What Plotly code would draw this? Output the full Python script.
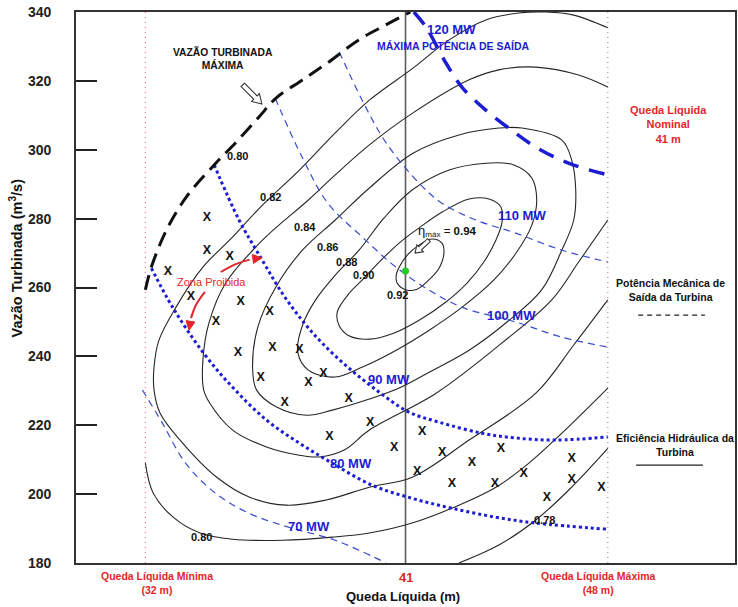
import math
import plotly.graph_objects as go

FONT = "Liberation Sans, Arial, sans-serif"
RED = "#e3262b"
BLUE_DARK = "#1c1cd2"
BLUE_THIN = "#3a4bd0"

# ---------------------------------------------------------------
# Hydraulic efficiency contours: queda líquida H [m], vazão Q [m3/s]
# ---------------------------------------------------------------
eta_092_h = [40.78, 41.06, 41.47, 41.92, 42.26, 42.33, 42.16, 41.81, 41.40, 41.02, 40.71, 40.68, 40.78]
eta_092_q = [265.9, 269.4, 272.3, 274.1, 272.9, 270.0, 265.6, 262.2, 259.5, 259.3, 261.3, 263.6, 265.9]

eta_090_h = [38.64, 39.06, 39.54, 40.09, 40.78, 41.47, 42.27, 43.20, 43.89, 44.30, 44.34, 44.13,
             43.71, 43.13, 42.40, 41.47, 40.61, 39.75, 39.06, 38.71, 38.64]
eta_090_q = [252.9, 258.4, 262.5, 267.4, 272.9, 277.3, 281.9, 285.7, 285.7, 283.4, 279.0, 273.8,
             267.4, 261.3, 255.8, 250.5, 246.8, 245.0, 245.9, 248.8, 252.9]

eta_088_h = [37.27, 37.44, 37.89, 38.57, 39.40, 40.26, 41.23, 42.51, 43.78, 44.75, 45.37, 45.54,
             45.37, 44.85, 44.06, 42.96, 41.82, 40.68, 39.51, 38.57, 37.64, 37.27]
eta_088_q = [241.3, 249.1, 256.4, 263.6, 270.9, 280.2, 288.3, 294.1, 296.1, 295.6, 291.8, 285.4,
             278.1, 270.3, 262.2, 254.3, 247.6, 241.8, 236.9, 234.0, 236.0, 241.3]

eta_086_h = [35.71, 35.89, 36.51, 37.44, 38.57, 39.75, 41.26, 42.85, 44.23, 45.03, 46.41, 46.75,
             46.89, 46.82, 46.41, 45.71, 44.47, 43.20, 41.82, 40.78, 39.75, 38.47, 37.58, 36.54,
             35.85, 35.71]
eta_086_q = [236.6, 248.5, 260.1, 270.9, 279.6, 288.9, 299.0, 304.3, 306.3, 306.3, 302.8, 297.0,
             288.3, 279.6, 270.9, 259.3, 249.7, 241.8, 235.4, 230.8, 227.6, 224.4, 222.9, 225.3,
             230.2, 236.6]

eta_084_h = [48.00, 46.99, 45.51, 44.23, 43.20, 41.26, 39.75, 38.57, 37.64, 36.06, 34.78, 34.20,
             33.99, 34.02, 34.23, 35.02, 36.19, 37.33, 38.02, 38.88, 39.75, 42.06, 44.34, 46.06,
             46.99, 48.00]
eta_084_q = [318.2, 321.7, 324.0, 323.2, 320.3, 310.7, 301.4, 292.7, 285.4, 273.8, 261.3, 249.7,
             238.9, 230.2, 226.4, 218.6, 213.7, 211.3, 210.8, 212.8, 218.6, 229.3, 243.9, 256.4,
             267.4, 279.6]

eta_082_h = [48.00, 46.82, 45.85, 44.92, 43.78, 42.51, 41.26, 39.75, 38.57, 37.33, 36.06, 34.92,
             33.99, 33.06, 32.47, 32.30, 32.30, 32.51, 33.20, 34.47, 35.61, 36.89, 38.26, 39.75,
             41.23, 43.20, 45.51, 46.82, 48.00]
eta_082_q = [335.4, 339.1, 340.0, 339.7, 337.7, 331.9, 323.7, 314.4, 304.9, 294.1, 284.0, 273.8,
             265.9, 254.3, 244.7, 236.9, 230.2, 223.5, 215.7, 204.9, 199.1, 196.8, 198.3, 202.0,
             204.9, 215.7, 229.3, 243.3, 256.4]

eta_080_h = [32.00, 32.27, 32.96, 33.89, 35.02, 36.75, 38.47, 39.75, 41.23, 42.85, 44.13, 45.27,
             46.41, 48.00]
eta_080_q = [209.0, 200.3, 193.3, 188.7, 186.9, 186.6, 187.5, 188.7, 191.6, 196.8, 202.0, 209.0,
             217.7, 230.8]

eta_078_h = [42.85, 44.23, 45.51, 46.65, 48.00]
eta_078_q = [180.0, 185.2, 192.5, 201.2, 213.3]

# ---------------------------------------------------------------
# Constant mechanical output power lines [MW]
# ---------------------------------------------------------------
p070_h = [31.90, 32.59, 33.39, 34.42, 35.57, 36.95, 38.57, 40.33]
p070_q = [230.2, 220.6, 209.0, 200.3, 194.5, 190.4, 186.6, 180.0]

p080_h = [32.21, 32.94, 34.01, 35.01, 36.19, 37.33, 38.46, 39.84, 41.22, 42.60, 44.12, 45.50, 48.00]
p080_q = [265.6, 254.3, 241.0, 231.1, 221.5, 214.8, 209.0, 202.6, 198.8, 195.9, 193.3, 191.6, 189.8]

p090_h = [34.38, 35.24, 36.04, 36.73, 37.42, 38.11, 39.04, 40.09, 41.12, 42.16, 43.64, 44.81, 46.19, 48.00]
p090_q = [295.6, 279.6, 268.0, 258.4, 250.5, 243.9, 236.6, 229.6, 223.8, 220.9, 217.7, 216.3, 215.7, 216.6]

p100_h = [36.49, 37.42, 38.31, 39.50, 40.67, 41.81, 42.94, 44.81, 46.39, 48.00]
p100_q = [315.0, 297.9, 284.5, 274.7, 265.9, 259.3, 254.3, 250.0, 245.6, 242.7]

p110_h = [38.71, 39.50, 40.33, 41.47, 42.26, 43.43, 44.81, 46.39, 48.00]
p110_q = [328.4, 314.4, 302.0, 290.3, 284.5, 279.6, 275.8, 270.9, 267.4]

p120_h = [41.29, 41.71, 42.40, 42.95, 43.78, 44.57, 45.50, 46.64, 48.00]
p120_q = [340.0, 335.6, 325.2, 318.2, 311.5, 306.3, 300.8, 296.1, 292.7]

# Maximum turbined flow
qmax_h = [32.00, 32.21, 32.73, 33.42, 34.38, 35.14, 35.93, 36.52, 37.42, 38.35, 39.38, 40.31, 41.17]
qmax_q = [259.3, 266.0, 276.7, 286.3, 295.6, 302.2, 309.5, 315.0, 320.2, 325.5, 331.9, 336.2, 340.0]

# Forbidden-zone operating points
x_h = [34.13, 34.13, 34.92, 32.78, 33.58, 35.30, 36.30, 34.44, 35.20, 36.40, 37.33, 35.99, 37.64,
       38.16, 36.82, 39.03, 38.37, 39.78, 40.61, 41.58, 42.27, 41.40, 43.30, 44.30, 42.61, 44.09,
       45.09, 45.89, 46.75, 46.75, 47.78]
x_q = [280.2, 270.6, 268.8, 264.5, 257.2, 255.8, 252.9, 250.0, 241.0, 242.4, 241.8, 233.7, 232.2,
       234.9, 226.4, 227.6, 216.6, 220.6, 213.4, 218.0, 211.9, 206.4, 209.0, 213.1, 202.9, 202.9,
       205.8, 198.8, 210.2, 204.1, 201.7]

# Heads and best efficiency point
h_min, h_nom, h_max = 32, 41, 48
bep_h, bep_q = 41.0, 264.8

q_ticks = [180, 200, 220, 240, 260, 280, 300, 320, 340]

fig = go.Figure()


def line(h, q, color, width, dash="solid", shape="spline"):
    fig.add_trace(go.Scatter(x=h, y=q, mode="lines", hoverinfo="skip",
                             line=dict(color=color, width=width, dash=dash,
                                       shape=shape, smoothing=1.0)))


# head limits
for h in (h_min, h_max):
    line([h, h], [180, 340], "#e07a7a", 1.2, "1px,4px", "linear")
line([h_nom, h_nom], [180, 340], "#5a5a5a", 1.6, "solid", "linear")

# efficiency
for h, q in [(eta_092_h, eta_092_q), (eta_090_h, eta_090_q), (eta_088_h, eta_088_q),
             (eta_086_h, eta_086_q), (eta_084_h, eta_084_q), (eta_082_h, eta_082_q),
             (eta_080_h, eta_080_q), (eta_078_h, eta_078_q)]:
    line(h, q, "#262626", 1.1)

# power
line(p070_h, p070_q, BLUE_THIN, 1.2, "7px,5px")
line(p100_h, p100_q, BLUE_THIN, 1.2, "7px,5px")
line(p110_h, p110_q, BLUE_THIN, 1.2, "7px,5px")
line(p080_h, p080_q, BLUE_DARK, 3.0, "3px,3px")
line(p090_h, p090_q, BLUE_DARK, 3.0, "3px,3px")
line(p120_h, p120_q, BLUE_DARK, 3.5, "16px,11px")

# maximum flow
line(qmax_h, qmax_q, "#111111", 3.0, "15px,8px")

# forbidden-zone points
fig.add_trace(go.Scatter(x=x_h, y=x_q, mode="text", text=["X"] * len(x_h), hoverinfo="skip",
                         textfont=dict(family=FONT, size=12.5, color="#111111", weight="bold")))

# best efficiency point
fig.add_trace(go.Scatter(x=[bep_h], y=[bep_q], mode="markers", hoverinfo="skip",
                         marker=dict(color="#22cc22", size=7)))

# Zona Proibida curved arrows
line([34.61, 35.13, 35.61], [264.5, 266.8, 268.1], RED, 2.0)
line([34.06, 33.75, 33.58], [258.7, 254.9, 251.1], RED, 2.0)

ann = []


def text(x, y, s, size=11, color="#111111", bold=True, xref="x", yref="y", **kw):
    ann.append(dict(x=x, y=y, text=s, showarrow=False, xref=xref, yref=yref,
                    xanchor="center", yanchor="middle",
                    font=dict(family=FONT, size=size, color=color,
                              weight="bold" if bold else "normal"), **kw))


# contour labels
for x, y, s in [(35.20, 298.2, "0.80"), (36.34, 286.3, "0.82"), (37.51, 277.6, "0.84"),
                (38.30, 271.7, "0.86"), (38.96, 267.4, "0.88"), (39.54, 263.6, "0.90"),
                (40.72, 257.8, "0.92"), (33.95, 187.5, "0.80"), (45.82, 192.5, "0.78")]:
    text(x, y, s, 11)

text(42.45, 276.3, "<span style='font-size:13px'>η</span><sub>máx</sub> = <b>0.94</b>",
     11.5, bold=False)

# power labels
for x, y, s in [(37.65, 190.7, "70 MW"), (39.13, 209.0, "80 MW"), (40.43, 233.4, "90 MW"),
                (44.68, 252.0, "100 MW"), (45.02, 281.0, "110 MW"), (42.58, 334.8, "120 MW")]:
    text(x, y, s, 13, BLUE_DARK)
text(42.65, 330.1, "MÁXIMA POTÊNCIA DE SAÍDA", 10.5, BLUE_DARK)

text(34.68, 326.6, "VAZÃO TURBINADA<br>MÁXIMA", 10.3)
text(34.30, 261.6, "Zona Proibida", 11, RED, bold=False)

# right-hand notes
text(50.09, 307.2, "Queda Líquida<br>Nominal<br>41 m", 11, RED)
text(50.16, 259.3, "Potência Mecânica de<br>Saída da Turbina", 10.5)
text(50.33, 214.2, "Eficiência Hidráulica da<br>Turbina", 10.5)

# bottom labels
text(32.40, -0.0354, "Queda Líquida Mínima<br>(32 m)", 10.5, RED, yref="paper")
text(47.68, -0.0372, "Queda Líquida Máxima<br>(48 m)", 10.5, RED, yref="paper")
text(h_nom, -0.0272, str(h_nom), 13, RED, yref="paper")
text(40.92, -0.0617, "Queda Líquida (m)", 13, yref="paper")
text(-0.0908, 0.553, "Vazão Turbinada (m<sup>3</sup>/s)", 14.5, xref="paper", yref="paper",
     textangle=-90)


def arrow_path(dx, dy, length, shaft, head, head_len):
    """Outline of an arrow whose tip is at (0, 0), in pixels (y up)."""
    n = math.hypot(dx, dy)
    ux, uy = dx / n, dy / n
    px, py = -uy, ux
    bx, by = -ux * head_len, -uy * head_len
    tx, ty = -ux * length, -uy * length
    pts = [(tx + px * shaft, ty + py * shaft), (bx + px * shaft, by + py * shaft),
           (bx + px * head, by + py * head), (0.0, 0.0),
           (bx - px * head, by - py * head), (bx - px * shaft, by - py * shaft),
           (tx - px * shaft, ty - py * shaft)]
    if shaft == 0:
        pts = [pts[2], pts[3], pts[4]]
    return "M " + " L ".join(f"{a:.2f} {b:.2f}" for a, b in pts) + " Z"


def arrow_shape(x, y, path, fill, edge, width):
    return dict(type="path", xref="x", yref="y", xsizemode="pixel", ysizemode="pixel",
                xanchor=x, yanchor=y, path=path, fillcolor=fill,
                line=dict(color=edge, width=width), layer="above")


shapes = [
    # hollow pointers
    arrow_shape(36.03, 313.3, arrow_path(19, -19, 27, 2.4, 5.5, 9), "white", "#333333", 1.1),
    arrow_shape(41.33, 270.0, arrow_path(-14, -13, 19, 2.0, 4.8, 7), "white", "#333333", 1.1),
    # red arrow heads
    arrow_shape(36.03, 268.6, arrow_path(12, 1.5, 9, 0, 4.5, 9), RED, RED, 1),
    arrow_shape(33.51, 247.6, arrow_path(-2, -12, 9, 0, 4.5, 9), RED, RED, 1),
    # legend samples at the right
    dict(type="line", xref="x", yref="y", x0=49.05, x1=51.36, y0=252.0, y1=252.0,
         line=dict(color="#222222", width=1.2, dash="5px,4px")),
    dict(type="line", xref="x", yref="y", x0=48.98, x1=51.29, y0=208.4, y1=208.4,
         line=dict(color="#222222", width=1.2)),
]

fig.update_layout(
    width=738, height=607,
    margin=dict(l=76, r=1, t=12, b=44),
    paper_bgcolor="white", plot_bgcolor="white",
    showlegend=False,
    annotations=ann, shapes=shapes,
    xaxis=dict(range=[29.6, 52.4], showgrid=False, zeroline=False,
               showline=True, mirror=True, linecolor="#333333", linewidth=1.8,
               showticklabels=False, ticks=""),
    yaxis=dict(range=[180, 340], showgrid=False, zeroline=False,
               showline=True, mirror=True, linecolor="#333333", linewidth=1.8,
               tickvals=q_ticks, ticks="inside", ticklen=21, tickwidth=1.6,
               tickcolor="#222222",
               tickfont=dict(family=FONT, size=14, color="#222222", weight="bold"),
               ticklabelstandoff=20),
)

fig.write_html("out.html")
